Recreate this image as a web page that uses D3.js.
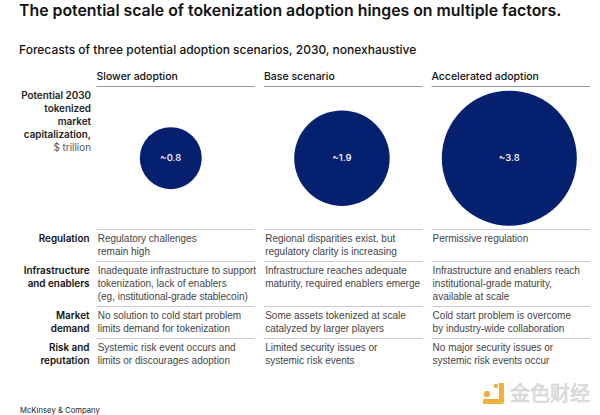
<!DOCTYPE html>
<html>
<head>
<meta charset="utf-8">
<script src="https://cdnjs.cloudflare.com/ajax/libs/d3/7.8.5/d3.min.js"></script>
<style>
	html, body { margin: 0; padding: 0; background: #fff; }
	svg { display: block; }
	text { font-family: Inter, "Noto Sans", sans-serif; }
	text.body { font-family: "Liberation Sans", Arial, sans-serif; }
</style>
</head>
<body>
<div id="chart"></div>
<script>
var titleText = 'The potential scale of tokenization adoption hinges on multiple factors.';
var subtitleText = 'Forecasts of three potential adoption scenarios, 2030, nonexhaustive';
var scenarios = ['Slower adoption', 'Base scenario', 'Accelerated adoption'];
var marketCap = [0.8, 1.9, 3.8];
var capLabels = ['~0.8', '~1.9', '~3.8'];
var capTitle = ['Potential 2030', 'tokenized', 'market', 'capitalization,'];
var capUnit = '$ trillion';
var factors = [
	['Regulation'],
	['Infrastructure', 'and enablers'],
	['Market', 'demand'],
	['Risk and', 'reputation']
];
var slowerText = [
	['Regulatory challenges', 'remain high'],
	['Inadequate infrastructure to support', 'tokenization, lack of enablers', '(eg, institutional-grade stablecoin)'],
	['No solution to cold start problem', 'limits demand for tokenization'],
	['Systemic risk event occurs and', 'limits or discourages adoption']
];
var baseText = [
	['Regional disparities exist, but', 'regulatory clarity is increasing'],
	['Infrastructure reaches adequate', 'maturity, required enablers emerge'],
	['Some assets tokenized at scale', 'catalyzed by larger players'],
	['Limited security issues or', 'systemic risk events']
];
var acceleratedText = [
	['Permissive regulation'],
	['Infrastructure and enablers reach', 'institutional-grade maturity,', 'available at scale'],
	['Cold start problem is overcome', 'by industry-wide collaboration'],
	['No major security issues or', 'systemic risk events occur']
];
var sourceText = 'McKinsey & Company';
var watermarkText = '金色财经';

var width = 600, height = 415;
var svg = d3.select('#chart').append('svg')
	.attr('width', width)
	.attr('height', height);

var colX = d3.scaleBand().domain(scenarios).range([96.5, 590]).paddingInner(0.053).paddingOuter(0);
var rScale = d3.scaleSqrt().domain([0, 3.8]).range([0, 67.5]);
// circles sit a little left of their column centre
var circleShift = [-5, -1.3, -1.4];
var circleY = 158.2;
var rowTops = [229, 261, 306, 338];
var bodyCols = [slowerText, baseText, acceleratedText];
var lineHeight = 13;

function circleX(i) {
	return colX(scenarios[i]) + colX.bandwidth() / 2 + circleShift[i];
}

function addText(x, y, str, size, weight, fill, anchor) {
	return svg.append('text')
		.attr('x', x).attr('y', y)
		.attr('font-size', size)
		.attr('font-weight', weight)
		.attr('fill', fill)
		.attr('text-anchor', anchor || 'start')
		.text(str);
}

addText(19, 16, titleText, 15.85, 600, '#111');
addText(19, 53.5, subtitleText, 12, 500, '#111');

// column heads and rules
scenarios.forEach(function(name, i) {
	var x = colX(name);
	addText(x, 80, name, 10.5, 500, '#111');
	svg.append('line')
		.attr('x1', x).attr('x2', x + colX.bandwidth())
		.attr('y1', 86.5).attr('y2', 86.5)
		.attr('stroke', '#808080').attr('stroke-width', 0.8);
	rowTops.forEach(function(y) {
		svg.append('line')
			.attr('x1', x).attr('x2', x + colX.bandwidth())
			.attr('y1', y + 0.5).attr('y2', y + 0.5)
			.attr('stroke', '#bdbdbd').attr('stroke-width', 0.8);
	});
});

// circles
svg.selectAll('circle.cap')
	.data(marketCap)
	.enter().append('circle')
	.attr('class', 'cap')
	.attr('cx', function(d, i) { return circleX(i); })
	.attr('cy', circleY)
	.attr('r', function(d) { return rScale(d); })
	.attr('fill', '#04206f');

svg.selectAll('text.capLabel')
	.data(capLabels)
	.enter().append('text')
	.attr('class', 'capLabel')
	.attr('x', function(d, i) { return circleX(i); })
	.attr('y', 161)
	.attr('text-anchor', 'middle')
	.attr('font-size', 9.5)
	.attr('font-weight', 500)
	.attr('fill', '#fff')
	.text(function(d) { return d; });

// left labels
capTitle.forEach(function(t, i) {
	addText(91, 99 + i * 13, t, 9.9, 600, '#222', 'end');
});
addText(91, 150.8, capUnit, 9.9, 400, '#555', 'end');

factors.forEach(function(lines, r) {
	lines.forEach(function(t, i) {
		addText(89.5, rowTops[r] + 13.3 + i * lineHeight, t, 9.9, 600, '#111', 'end');
	});
});

// body text
bodyCols.forEach(function(col, c) {
	var x = colX(scenarios[c]) + 1.2;
	col.forEach(function(lines, r) {
		lines.forEach(function(t, i) {
			addText(x, rowTops[r] + 13.3 + i * lineHeight, t, 10, 400, '#444').attr('class', 'body');
		});
	});
});

addText(20, 413, sourceText, 7.7, 400, '#222');

// watermark
var logo = svg.append('g').attr('fill', '#f0b03a');
logo.append('rect').attr('x', 484).attr('y', 391).attr('width', 6).attr('height', 6).attr('rx', 2);
logo.append('rect').attr('x', 494).attr('y', 384).attr('width', 4).attr('height', 4).attr('rx', 1);
logo.append('path').attr('d', 'M499 383h5v19a2 2 0 0 1-2 2h-19v-5h16z');
addText(510, 401, watermarkText, 20, 400, '#e6e6e6')
	.attr('stroke', '#c8c8c8').attr('stroke-width', 0.5)
	.style('font-family', '"Noto Sans CJK SC"');
</script>
</body>
</html>
